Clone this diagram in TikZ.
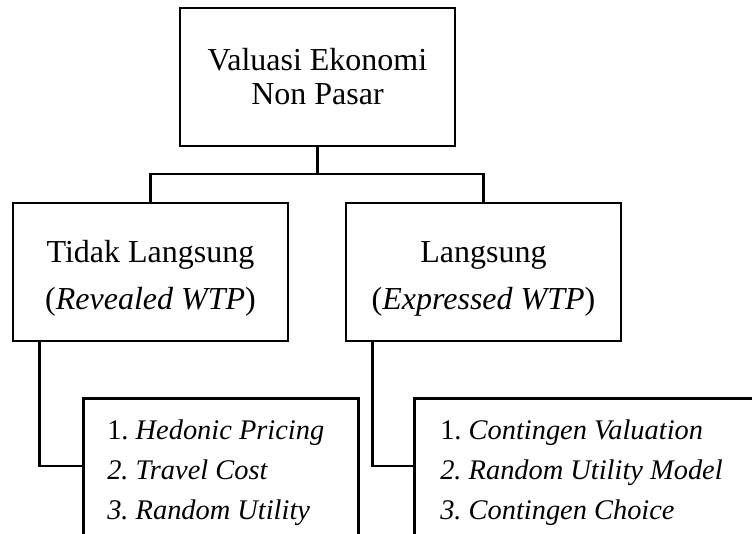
\documentclass[tikz,border=0pt]{standalone}
\usepackage{fontspec}
\setmainfont{Liberation Serif}
\usepackage{tikz}
\usetikzlibrary{positioning}
\frenchspacing

\begin{document}
\begin{tikzpicture}[x=0.5pt, y=-0.5pt]
\tikzstyle{box} = [rectangle, minimum width=137.5pt, minimum height=69pt, inner sep=0pt, text centered, align=center, draw=black, line width=1.3pt]
\tikzstyle{listbox} = [rectangle, anchor=north west, minimum height=74pt, inner ysep=0pt, align=flush left, draw=black, line width=1.3pt, font=\fontsize{14.2pt}{20pt}\selectfont]
\tikzstyle{line} = [line width=1.3pt]

\useasboundingbox (0,0) rectangle (752,534);
\clip (0,0) rectangle (752,534);

\node (valuasi) [box, font=\fontsize{16pt}{17pt}\selectfont] at (317.5,77) {Valuasi Ekonomi\\Non Pasar};
\node (tidak) [box, font=\fontsize{16pt}{23.5pt}\selectfont] at (150.5,272) {\rule{0pt}{17.5pt}Tidak Langsung\\(\textit{Revealed WTP})};
\node (langsung) [box, font=\fontsize{16pt}{23.5pt}\selectfont] at (483.5,272) {\rule{0pt}{17.5pt}Langsung\\(\textit{Expressed WTP})};
\node (metodetl) [listbox, inner xsep=12pt, text width=113.5pt] at (82,397) {1. \textit{Hedonic Pricing}\\\textit{2. Travel Cost}\\\textit{3. Random Utility}};
\node (metodel) [listbox, inner xsep=13pt, text width=157.5pt] at (413,397) {1. \textit{Contingen Valuation}\\\textit{2. Random Utility Model}\\\textit{3. Contingen Choice}};

\coordinate (split) at (317.5,174);

\draw [line] (valuasi) -- (split);
\draw [line] (split) -| (tidak);
\draw [line] (split) -| (langsung);
\draw [line] ([xshift=14pt]tidak.south west) |- ([yshift=-34.5pt]metodetl.north west);
\draw [line] ([xshift=14pt]langsung.south west) |- ([yshift=-34.5pt]metodel.north west);
\end{tikzpicture}
\end{document}
